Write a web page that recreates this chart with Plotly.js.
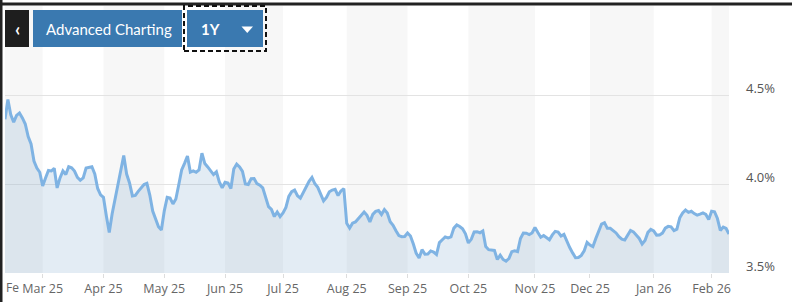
<!DOCTYPE html>
<html>
<head>
<meta charset="utf-8">
<script src="https://cdn.plot.ly/plotly-3.0.1.min.js"></script>
<style>
  html, body { margin: 0; padding: 0; background: #ffffff; }
  #chart { width: 792px; height: 302px; }
</style>
</head>
<body>
<div id="chart"></div>
<script>
// Month tick positions (index of first trading day of each month) and labels
const monthTickIdx = [13, 34, 55, 76, 96, 118, 139, 160, 183, 202, 224, 244];
const monthTickText = ["Mar 25", "Apr 25", "May 25", "Jun 25", "Jul 25", "Aug 25",
                       "Sep 25", "Oct 25", "Nov 25", "Dec 25", "Jan 26", "Feb 26"];
// Shaded (grey) month bands, as [startIdx, endIdx]
const greyBands = [[-1, 13], [34, 55], [76, 96], [118, 139], [160, 183], [202, 224], [244, 251]];

// Y axis ticks
const yTickVals = [3.5, 4.0, 4.5];
const yTickText = ["3.5%", "4.0%", "4.5%"];

// Daily yield values (%), one per trading day, Feb 2025 -> Feb 2026
const yieldValues = [
  4.364, 4.475, 4.388, 4.348, 4.385, 4.399, 4.371, 4.337, 4.267, 4.225,
  4.129, 4.090, 4.066, 3.989, 4.034, 4.076, 4.073, 4.088, 3.978, 4.034,
  4.073, 4.053, 4.097, 4.091, 4.073, 4.037, 4.021, 4.034, 4.090, 4.093,
  4.097, 4.057, 3.975, 3.939, 3.925, 3.820, 3.728, 3.833, 3.916, 4.000,
  4.067, 4.160, 4.056, 4.006, 3.933, 3.936, 3.959, 3.979, 3.997, 4.004,
  3.938, 3.848, 3.798, 3.760, 3.742, 3.849, 3.925, 3.921, 3.888, 3.916,
  3.996, 4.079, 4.116, 4.157, 4.067, 4.074, 4.066, 4.079, 4.173, 4.115,
  4.096, 4.071, 4.053, 4.069, 4.012, 3.979, 4.010, 4.006, 3.975, 4.084,
  4.112, 4.096, 4.071, 4.000, 3.997, 4.030, 4.031, 4.002, 3.993, 3.978,
  3.930, 3.873, 3.857, 3.817, 3.843, 3.817, 3.837, 3.868, 3.930, 3.957,
  3.966, 3.934, 3.920, 3.953, 3.980, 4.015, 4.037, 4.001, 3.981, 3.938,
  3.905, 3.925, 3.956, 3.966, 3.970, 3.935, 3.961, 3.974, 3.779, 3.752,
  3.780, 3.787, 3.806, 3.830, 3.843, 3.824, 3.787, 3.829, 3.846, 3.851,
  3.829, 3.856, 3.837, 3.788, 3.768, 3.737, 3.710, 3.704, 3.705, 3.725,
  3.708, 3.663, 3.610, 3.584, 3.631, 3.606, 3.607, 3.624, 3.618, 3.604,
  3.671, 3.687, 3.703, 3.697, 3.703, 3.752, 3.770, 3.761, 3.748, 3.720,
  3.669, 3.689, 3.731, 3.732, 3.726, 3.736, 3.648, 3.631, 3.629, 3.627,
  3.576, 3.600, 3.576, 3.567, 3.581, 3.620, 3.625, 3.620, 3.694, 3.725,
  3.724, 3.716, 3.725, 3.756, 3.727, 3.701, 3.711, 3.701, 3.687, 3.714,
  3.734, 3.730, 3.708, 3.717, 3.676, 3.643, 3.613, 3.586, 3.587, 3.599,
  3.625, 3.672, 3.657, 3.648, 3.693, 3.735, 3.775, 3.783, 3.751, 3.751,
  3.740, 3.725, 3.704, 3.690, 3.685, 3.712, 3.739, 3.731, 3.715, 3.694,
  3.663, 3.683, 3.728, 3.745, 3.737, 3.713, 3.714, 3.724, 3.752, 3.762,
  3.759, 3.738, 3.746, 3.810, 3.837, 3.854, 3.841, 3.847, 3.834, 3.825,
  3.831, 3.838, 3.829, 3.801, 3.847, 3.844, 3.806, 3.739, 3.758, 3.750,
  3.719
];
const dayIndex = yieldValues.map((_, i) => i);

// ---- layout geometry helpers (pixel -> paper) ----
const W = 792, H = 302;
const M = { l: 5, r: 63, t: 6, b: 29 };
const PW = W - M.l - M.r, PH = H - M.t - M.b;
const px = x => (x - M.l) / PW;
const py = y => (H - M.b - y) / PH;

const shapes = [];
greyBands.forEach(b => shapes.push({
  type: 'rect', xref: 'x', yref: 'paper', x0: b[0], x1: b[1], y0: 0, y1: 1,
  fillcolor: '#f7f7f7', line: { width: 0 }, layer: 'below'
}));
// frame lines
shapes.push({ type: 'line', xref: 'paper', yref: 'paper', x0: px(0), x1: px(792), y0: py(4), y1: py(4),
  line: { color: '#222222', width: 3 } });
shapes.push({ type: 'line', xref: 'paper', yref: 'paper', x0: px(1), x1: px(1), y0: py(0), y1: py(302),
  line: { color: '#222222', width: 3 } });
// buttons
const rect = (x0, y0, x1, y1, fill, line) => ({
  type: 'rect', xref: 'paper', yref: 'paper', x0: px(x0), x1: px(x1), y0: py(y1), y1: py(y0),
  fillcolor: fill, line: line || { width: 0 }, layer: 'above'
});
shapes.push(rect(5, 10, 29, 47, '#1e1e1e'));
shapes.push(rect(33, 10, 182, 47, '#3a79b0'));
shapes.push(rect(184, 6, 266, 51, 'rgba(0,0,0,0)', { color: '#111', width: 2, dash: '5px,3px' }));
shapes.push(rect(187, 10, 263, 47, '#3a79b0'));
shapes.push({
  type: 'path', xref: 'paper', yref: 'paper', layer: 'above',
  path: `M ${px(241.5)} ${py(26.5)} L ${px(253)} ${py(26.5)} L ${px(247.25)} ${py(33)} Z`,
  fillcolor: '#ffffff', line: { width: 0 }
});

const annotations = [
  { xref: 'paper', yref: 'paper', x: px(17), y: py(29), text: '<b>‹</b>', showarrow: false,
    xanchor: 'center', yanchor: 'middle', font: { family: 'Lato', size: 18, color: '#ffffff' } },
  { xref: 'paper', yref: 'paper', x: px(109), y: py(29), text: 'Advanced Charting', showarrow: false,
    xanchor: 'center', yanchor: 'middle', font: { family: 'Lato', size: 15, color: '#ffffff' } },
  { xref: 'paper', yref: 'paper', x: px(210), y: py(29), text: '<b>1Y</b>', showarrow: false,
    xanchor: 'center', yanchor: 'middle', font: { family: 'Lato', size: 15, color: '#ffffff' } },
  { xref: 'paper', yref: 'paper', x: px(4), y: 0, yshift: -4, text: 'Fe', showarrow: false,
    xanchor: 'left', yanchor: 'top', font: { family: 'Open Sans', size: 12, color: '#666666' } }
];

const trace = {
  x: dayIndex, y: yieldValues, type: 'scatter', mode: 'lines',
  line: { color: '#7fb3e3', width: 3, shape: 'linear' },
  fill: 'tozeroy', fillcolor: 'rgba(70,130,180,0.15)',
  hoverinfo: 'skip'
};

const layout = {
  width: W, height: H,
  margin: M,
  paper_bgcolor: '#ffffff', plot_bgcolor: '#ffffff',
  showlegend: false,
  font: { family: 'Open Sans', size: 13, color: '#666666' },
  xaxis: {
    range: [0, 250], tickmode: 'array', tickvals: monthTickIdx, ticktext: monthTickText,
    showgrid: false, zeroline: false, showline: false,
    ticks: 'outside', ticklen: 4, tickcolor: '#dddddd',
    tickfont: { family: 'Open Sans', size: 12.5, color: '#666666' }
  },
  yaxis: {
    side: 'right', range: [3.5, 5.0], tickmode: 'array', tickvals: yTickVals, ticktext: yTickText,
    showgrid: true, gridcolor: '#e3e3e3', gridwidth: 1, zeroline: false, showline: false,
    ticks: '', ticklabelstandoff: 16, ticklabelshift: -7,
    tickfont: { family: 'Open Sans', size: 13, color: '#555555' }
  },
  shapes: shapes,
  annotations: annotations
};

Plotly.newPlot('chart', [trace], layout, { staticPlot: true, displayModeBar: false });
</script>
</body>
</html>
